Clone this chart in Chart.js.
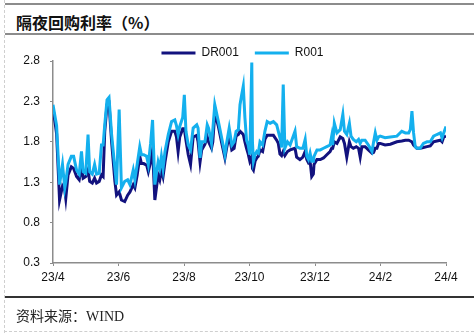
<!DOCTYPE html>
<html>
<head>
<meta charset="utf-8">
<script src="https://cdn.jsdelivr.net/npm/chart.js@4.4.1/dist/chart.umd.min.js"></script>
<style>
html,body{margin:0;padding:0;background:#fff;}
body{width:474px;height:333px;position:relative;overflow:hidden;}
.abs{position:absolute;}
#leftdash{left:4px;top:0;height:333px;width:0;border-left:1px dashed #cfcfcf;}
#bottomdash{left:4px;top:331px;width:470px;height:0;border-top:1px dashed #cfcfcf;}
#topline{left:5px;top:3px;width:469px;height:2px;background:#8c8c8c;}
#title{left:16px;top:12px;font:bold 16px "Noto Sans CJK SC","Liberation Serif",serif;line-height:20px;color:#111;white-space:nowrap;}
#titleline{left:5px;top:33px;width:469px;height:2px;background:#8c8c8c;}
#footline{left:5px;top:296px;width:469px;height:2px;background:#333;}
#foot{left:16px;top:308px;font:14px "Liberation Serif","Noto Sans CJK SC",serif;line-height:18px;color:#222;white-space:nowrap;}
#wrap{left:0;top:0;width:474px;height:333px;}
</style>
</head>
<body>
<div id="leftdash" class="abs"></div>
<div id="bottomdash" class="abs"></div>
<div id="topline" class="abs"></div>
<div id="title" class="abs">隔夜回购利率（%）</div>
<div id="titleline" class="abs"></div>
<div id="wrap" class="abs"><canvas id="c" width="474" height="333"></canvas></div>
<div id="footline" class="abs"></div>
<div id="foot" class="abs">资料来源：WIND</div>
<script>
// x position in months since 2023-04 (0 = 23/4, 12 = 24/4)
const months = [
  0, 0.11, 0.20, 0.29, 0.36, 0.39, 0.46, 0.56, 0.63, 0.72,
  0.80, 0.87, 0.92, 1.00, 1.07, 1.12, 1.20, 1.27, 1.33, 1.41,
  1.48, 1.53, 1.58, 1.65, 1.71, 1.79, 1.89, 1.94, 2.02, 2.09,
  2.19, 2.28, 2.35, 2.45, 2.50, 2.57, 2.65, 2.70, 2.77, 2.86,
  2.91, 2.98, 3.04, 3.11, 3.21, 3.26, 3.31, 3.36, 3.42, 3.52,
  3.62, 3.72, 3.77, 3.82, 3.87, 3.96, 4.01, 4.06, 4.13, 4.20,
  4.28, 4.39, 4.43, 4.49, 4.54, 4.64, 4.71, 4.75, 4.84, 4.88,
  4.94, 5.05, 5.15, 5.25, 5.30, 5.38, 5.46, 5.53, 5.59, 5.66,
  5.71, 5.76, 5.81, 5.86, 5.91, 5.96, 6.01, 6.07, 6.09, 6.12,
  6.17, 6.22, 6.27, 6.32, 6.40, 6.47, 6.54, 6.63, 6.73, 6.83,
  6.88, 6.93, 6.98, 7.03, 7.08, 7.16, 7.24, 7.39, 7.44, 7.54,
  7.63, 7.70, 7.75, 7.80, 7.85, 7.90, 7.95, 7.97, 8.06, 8.16,
  8.26, 8.36, 8.46, 8.51, 8.54, 8.59, 8.67, 8.77, 8.85, 8.90,
  8.97, 9.05, 9.10, 9.17, 9.26, 9.33, 9.38, 9.43, 9.53, 9.63,
  9.74, 9.79, 9.84, 9.89, 9.94, 9.99, 10.14, 10.30, 10.50, 10.65,
  10.76, 10.86, 10.91, 10.96, 11.01, 11.06, 11.11, 11.21, 11.31, 11.42,
  11.52, 11.62, 11.72, 11.83, 11.88, 11.93, 12.0
];
const r001 = [
  2.26, 2.00, 1.27, 1.52, 1.23, 1.30, 1.52, 1.62, 1.62, 1.45,
  1.40, 1.68, 1.43, 1.41, 1.89, 1.43, 1.40, 1.52, 1.40, 1.41,
  1.76, 1.76, 2.01, 2.32, 2.35, 1.89, 1.47, 1.27, 2.20, 1.23,
  1.31, 1.33, 1.27, 1.45, 1.33, 1.52, 1.74, 1.64, 1.64, 1.62,
  1.52, 1.78, 2.07, 1.27, 1.55, 1.47, 1.62, 1.47, 1.68, 1.89,
  2.05, 2.07, 2.00, 1.89, 1.99, 2.10, 2.38, 1.93, 1.76, 1.70,
  1.97, 2.01, 1.97, 1.60, 1.80, 1.80, 2.01, 1.97, 1.78, 1.95,
  2.26, 2.05, 1.85, 1.64, 1.78, 1.97, 1.76, 1.80, 1.93, 1.95,
  2.26, 2.38, 2.49, 2.10, 1.82, 1.76, 1.64, 2.78, 1.80, 1.56,
  1.64, 1.68, 1.66, 1.80, 1.76, 1.93, 2.05, 2.03, 2.05, 2.01,
  1.93, 1.85, 1.73, 2.51, 1.72, 1.80, 1.76, 1.93, 1.74, 1.72,
  1.72, 1.83, 1.62, 1.58, 1.66, 1.56, 1.56, 1.62, 1.70, 1.70,
  1.72, 1.74, 1.76, 1.87, 1.76, 2.03, 1.91, 1.95, 2.14, 1.93,
  1.89, 2.03, 1.87, 1.83, 1.80, 1.83, 1.78, 1.82, 1.82, 1.76,
  1.68, 1.80, 1.91, 1.82, 1.86, 1.87, 1.85, 1.86, 1.87, 1.93,
  1.91, 1.91, 1.95, 2.18, 1.91, 1.74, 1.72, 1.72, 1.78, 1.80,
  1.80, 1.87, 1.89, 1.91, 1.85, 1.91, 1.99
];
const dr001 = [
  2.22, 1.90, 1.08, 1.25, 1.20, 1.10, 1.39, 1.49, 1.47, 1.37,
  1.33, 1.49, 1.35, 1.37, 1.45, 1.31, 1.29, 1.35, 1.29, 1.31,
  1.39, 1.37, 1.93, 2.26, 2.28, 1.80, 1.31, 1.14, 1.18, 1.08,
  1.06, 1.14, 1.18, 1.27, 1.23, 1.39, 1.62, 1.53, 1.53, 1.51,
  1.43, 1.55, 1.70, 1.08, 1.39, 1.33, 1.45, 1.37, 1.55, 1.80,
  1.93, 1.93, 1.86, 1.68, 1.86, 1.96, 1.96, 1.82, 1.64, 1.52,
  1.86, 1.88, 1.80, 1.55, 1.70, 1.77, 1.86, 1.80, 1.72, 1.80,
  2.16, 1.99, 1.79, 1.60, 1.72, 1.88, 1.70, 1.72, 1.87, 1.89,
  1.93, 1.91, 1.89, 1.80, 1.72, 1.65, 1.56, 1.62, 1.47, 1.45,
  1.56, 1.60, 1.62, 1.70, 1.68, 1.83, 1.88, 1.88, 1.88, 1.82,
  1.78, 1.65, 1.63, 1.68, 1.63, 1.68, 1.70, 1.72, 1.61, 1.58,
  1.61, 1.68, 1.58, 1.54, 1.56, 1.37, 1.40, 1.52, 1.58, 1.58,
  1.60, 1.64, 1.68, 1.72, 1.72, 1.80, 1.78, 1.86, 1.84, 1.78,
  1.61, 1.80, 1.74, 1.72, 1.74, 1.72, 1.61, 1.74, 1.74, 1.70,
  1.66, 1.67, 1.72, 1.72, 1.78, 1.78, 1.76, 1.77, 1.80, 1.81,
  1.82, 1.82, 1.81, 1.80, 1.76, 1.74, 1.72, 1.72, 1.73, 1.74,
  1.75, 1.80, 1.81, 1.82, 1.80, 1.86, 1.87
];
const xTickMonths = [0, 2, 4, 6, 8, 10, 12];
const xTickLabels = ['23/4', '23/6', '23/8', '23/10', '23/12', '24/2', '24/4'];
const yTicks = [0.3, 0.8, 1.3, 1.8, 2.3, 2.8];
const seriesNames = ['DR001', 'R001'];

const toPts = (vals) => vals.map((v, i) => ({x: months[i], y: v}));
const NAVY = '#12127e', LIGHT = '#14b0ee';
const axisColor = '#8c8c8c';
const tickFont = {family: '"Liberation Sans", Arial, sans-serif', size: 12};

new Chart(document.getElementById('c'), {
  type: 'line',
  data: {
    datasets: [
      {label: seriesNames[0], data: toPts(dr001), borderColor: NAVY, backgroundColor: NAVY, borderWidth: 3, pointRadius: 0, tension: 0, order: 1},
      {label: seriesNames[1], data: toPts(r001), borderColor: LIGHT, backgroundColor: LIGHT, borderWidth: 3, pointRadius: 0, tension: 0, order: 0}
    ]
  },
  options: {
    responsive: false,
    animation: false,
    devicePixelRatio: 1,
    layout: {padding: {left: 16, right: 5, top: 31, bottom: 36}},
    plugins: {
      tooltip: {enabled: false},
      legend: {
        position: 'top',
        maxHeight: 30,
        labels: {
          usePointStyle: true,
          pointStyle: 'line',
          pointStyleWidth: 34,
          padding: 16,
          color: '#111',
          font: tickFont,
          sort: (a, b) => a.datasetIndex - b.datasetIndex
        }
      }
    },
    scales: {
      x: {
        type: 'linear',
        min: 0, max: 12,
        afterFit: (s) => { s.height = 34; },
        afterBuildTicks: (s) => { s.ticks = xTickMonths.map(v => ({value: v})); },
        grid: {drawOnChartArea: false, drawTicks: true, tickLength: 3, color: axisColor},
        border: {color: axisColor, width: 1.5},
        ticks: {
          autoSkip: false, maxRotation: 0, padding: 4, color: '#111', font: tickFont,
          callback: (v) => { const i = xTickMonths.indexOf(v); return i >= 0 ? xTickLabels[i] : ''; }
        }
      },
      y: {
        type: 'linear',
        min: 0.3, max: 2.8,
        afterFit: (s) => { s.width = 37; },
        afterBuildTicks: (s) => { s.ticks = yTicks.map(v => ({value: v})); },
        grid: {drawOnChartArea: false, drawTicks: true, tickLength: 3, color: axisColor},
        border: {color: axisColor, width: 1.5},
        ticks: {padding: 10, color: '#111', font: tickFont, callback: (v) => Number(v).toFixed(1)}
      },
      yRightSpacer: {
        type: 'linear',
        position: 'right',
        min: 0, max: 1,
        afterFit: (s) => { s.width = 23; },
        grid: {display: false},
        border: {display: false},
        ticks: {display: false}
      }
    }
  }
});
</script>
</body>
</html>
